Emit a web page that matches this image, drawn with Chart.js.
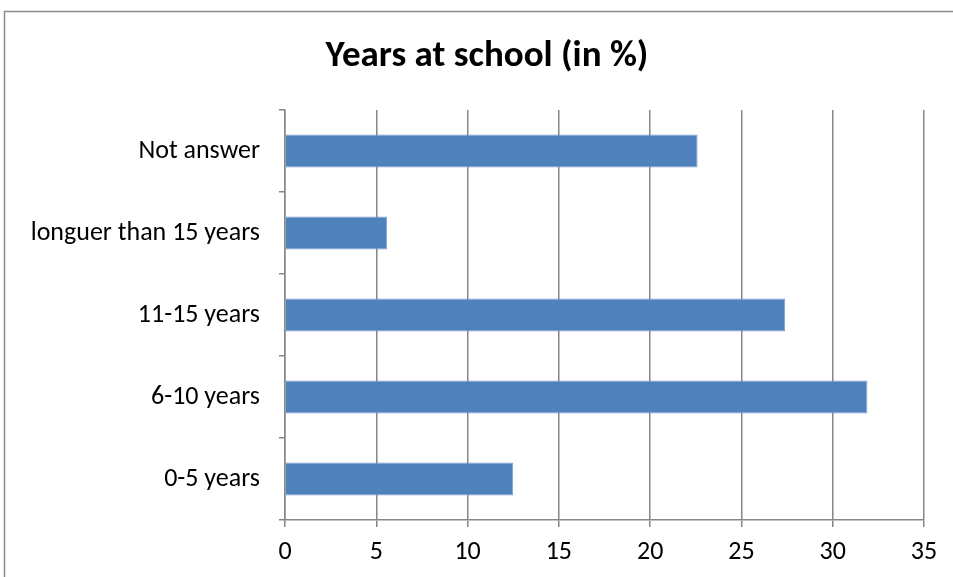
<!DOCTYPE html>
<html>
<head>
<meta charset="utf-8">
<script src="https://cdn.jsdelivr.net/npm/chart.js@4/dist/chart.umd.min.js"></script>
<style>
html,body{margin:0;padding:0;background:#fff;}
#wrap{width:953px;height:577px;position:relative;}
</style>
</head>
<body>
<div id="wrap"><canvas id="c" width="953" height="577"></canvas></div>
<script>
const categories = ['Not answer', 'longuer than 15 years', '11-15 years', '6-10 years', '0-5 years'];
const values = [22.6, 5.6, 27.4, 31.9, 12.5];
const xTicks = [0, 5, 10, 15, 20, 25, 30, 35];
const titleText = 'Years at school (in %)';

const FONT = "Carlito, Lato, 'Liberation Sans', sans-serif";

const framePlugin = {
  id: 'frame',
  afterLayout(chart) {
    const t = chart.titleBlock;
    if (t) { t.left = 50; t.right = 924; }
  },
  beforeDraw(chart) {
    const ctx = chart.ctx;
    ctx.save();
    ctx.fillStyle = '#fff';
    ctx.fillRect(0, 0, chart.width, chart.height);
    ctx.strokeStyle = '#8c8c8c';
    ctx.lineWidth = 1.5;
    ctx.strokeRect(4.5, 11.5, 1000, 700);
    ctx.restore();
  }
};

new Chart(document.getElementById('c'), {
  type: 'bar',
  data: {
    labels: categories,
    datasets: [{
      data: values,
      backgroundColor: '#4F81BD',
      borderColor: '#7EA3D3',
      borderWidth: 1,
      categoryPercentage: 1,
      barPercentage: 0.4
    }]
  },
  options: {
    indexAxis: 'y',
    responsive: false,
    animation: false,
    layout: { padding: { left: 0, right: 29, top: 0, bottom: 0 } },
    plugins: {
      legend: { display: false },
      tooltip: { enabled: false },
      title: {
        display: true,
        text: titleText,
        color: '#000',
        font: { family: FONT, size: 37, weight: 'bold', lineHeight: 1.2 },
        padding: { top: 35, bottom: 30.6 }
      }
    },
    scales: {
      x: {
        min: 0, max: 35,
        afterFit(s) { s.height = 57; },
        afterBuildTicks(s) { s.ticks = xTicks.map(v => ({ value: v })); },
        grid: { color: '#868686', lineWidth: 1.5, tickLength: 7, drawOnChartArea: true },
        border: { color: '#868686', width: 1.5 },
        ticks: { color: '#000', font: { family: FONT, size: 26 }, padding: 10, maxRotation: 0 }
      },
      y: {
        afterFit(s) { s.width = 285; },
        grid: { drawOnChartArea: false, color: '#868686', lineWidth: 1.5, tickLength: 6, offset: true },
        border: { color: '#868686', width: 1.5 },
        ticks: { color: '#000', font: { family: FONT, size: 26 }, padding: 19 }
      }
    }
  },
  plugins: [framePlugin]
});
</script>
</body>
</html>
